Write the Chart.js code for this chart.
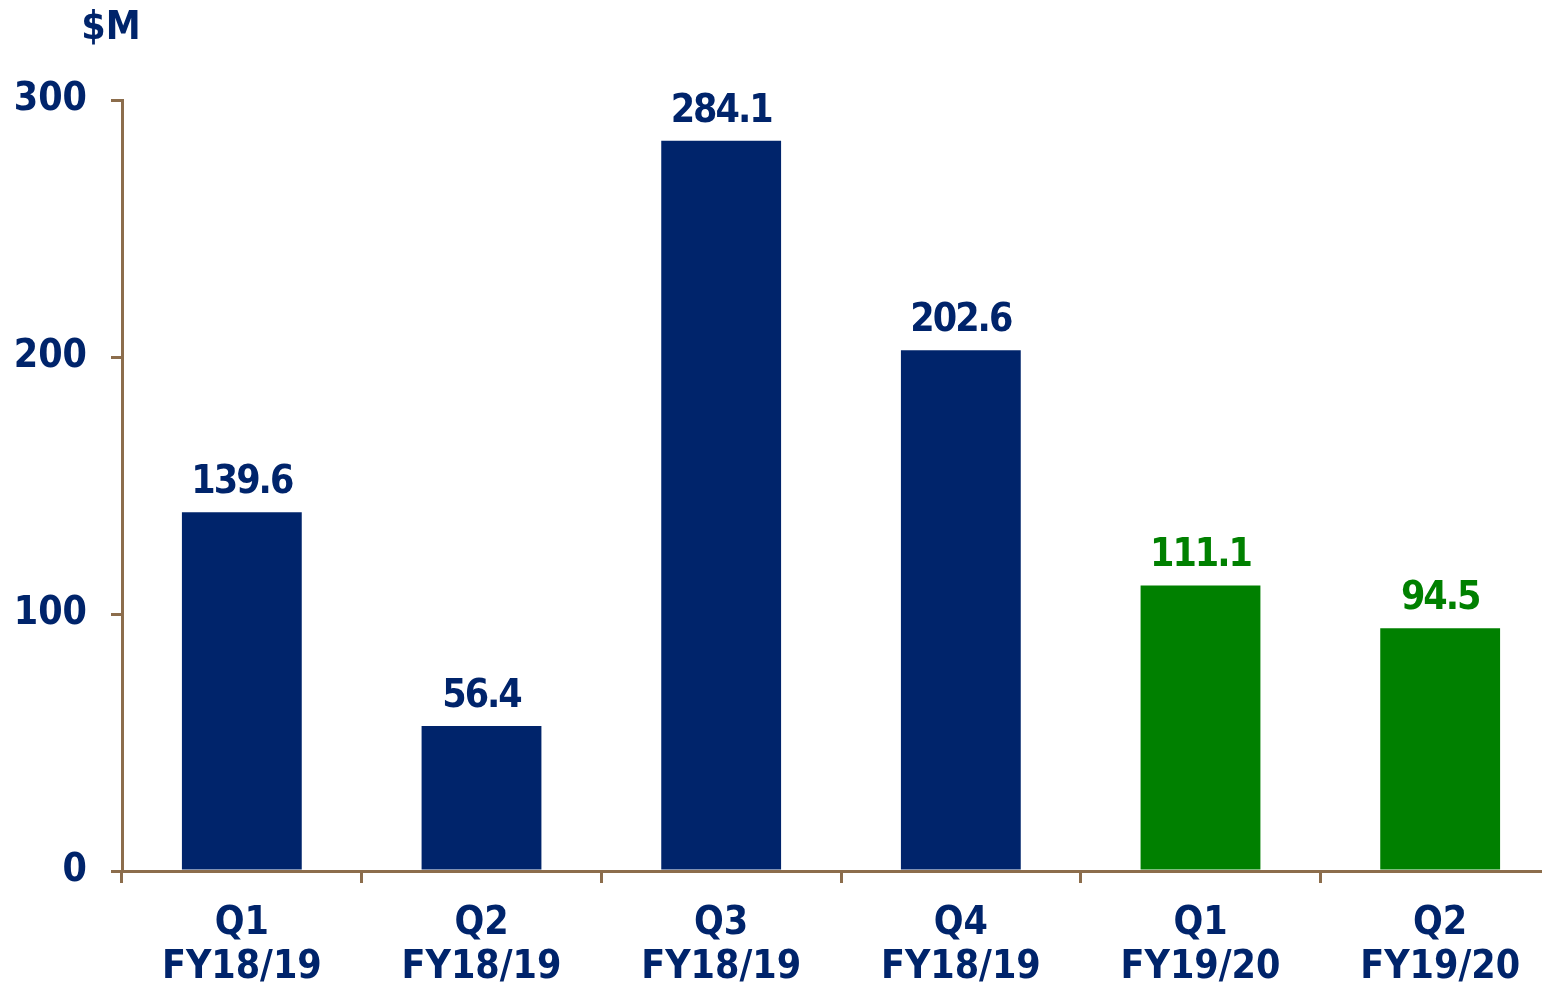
<!DOCTYPE html>
<html>
<head>
<meta charset="utf-8">
<script src="https://cdn.jsdelivr.net/npm/chart.js@4/dist/chart.umd.min.js"></script>
<style>
  html, body { margin: 0; padding: 0; background: #fff; overflow: hidden; }
  #wrap { width: 1600px; height: 986px; }
</style>
</head>
<body>
<div id="wrap"><canvas id="revChart" width="1600" height="986"></canvas></div>
<script>
// Data
const quarters = [['Q1', 'FY18/19'], ['Q2', 'FY18/19'], ['Q3', 'FY18/19'], ['Q4', 'FY18/19'], ['Q1', 'FY19/20'], ['Q2', 'FY19/20']];
const values = [139.6, 56.4, 284.1, 202.6, 111.1, 94.5];
const yTicks = [0, 100, 200, 300];
const unitLabel = '$M';

const navy = '#00246B';
const green = '#008000';
const brown = '#8C6D4C';
const font = '"DejaVu Sans Condensed", "DejaVu Sans", Verdana, sans-serif';

// first four quarters are navy, the new fiscal year is green
const barColors = values.map((v, i) => i < 4 ? navy : green);

// value labels above the bars + the unit label
const labelPlugin = {
    id: 'valueLabels',
    afterDatasetsDraw(chart) {
        const ctx = chart.ctx;
        const meta = chart.getDatasetMeta(0);
        ctx.save();
        ctx.font = 'bold 39px ' + font;
        ctx.letterSpacing = '-2px';
        ctx.textAlign = 'center';
        ctx.textBaseline = 'alphabetic';
        meta.data.forEach((bar, i) => {
            ctx.fillStyle = barColors[i];
            ctx.fillText(values[i].toFixed(1), bar.x, bar.y - 19);
        });
        ctx.letterSpacing = '0px';
        ctx.fillStyle = navy;
        ctx.fillText(unitLabel, 111, 39);
        ctx.restore();
    }
};

const revChart = new Chart(document.getElementById('revChart'), {
    type: 'bar',
    data: {
        labels: quarters,
        datasets: [{
            data: values,
            backgroundColor: barColors,
            categoryPercentage: 1,
            barPercentage: 0.5
        }]
    },
    options: {
        responsive: false,
        animation: false,
        layout: { padding: { top: 100, right: 40, left: 0, bottom: 0 } },
        plugins: {
            legend: { display: false },
            tooltip: { enabled: false }
        },
        scales: {
            x: {
                afterFit(scale) {
                    scale.height = 115;
                },
                grid: {
                    display: true,
                    drawOnChartArea: false,
                    color: brown,
                    lineWidth: 3,
                    tickLength: 12
                },
                border: { color: brown, width: 3 },
                ticks: {
                    color: navy,
                    font: { family: font, size: 39, weight: 'bold', lineHeight: 1.15 },
                    padding: 18,
                    maxRotation: 0
                }
            },
            y: {
                min: 0,
                max: 300,
                afterBuildTicks(scale) {
                    scale.ticks = yTicks.map(v => ({ value: v }));
                },
                afterFit(scale) {
                    scale.width = 122;
                },
                grid: {
                    display: true,
                    drawOnChartArea: false,
                    color: brown,
                    lineWidth: 3,
                    tickLength: 11
                },
                border: { color: brown, width: 3 },
                ticks: {
                    color: navy,
                    font: { family: font, size: 39, weight: 'bold' },
                    padding: 24
                }
            }
        }
    },
    plugins: [labelPlugin]
});
</script>
</body>
</html>
